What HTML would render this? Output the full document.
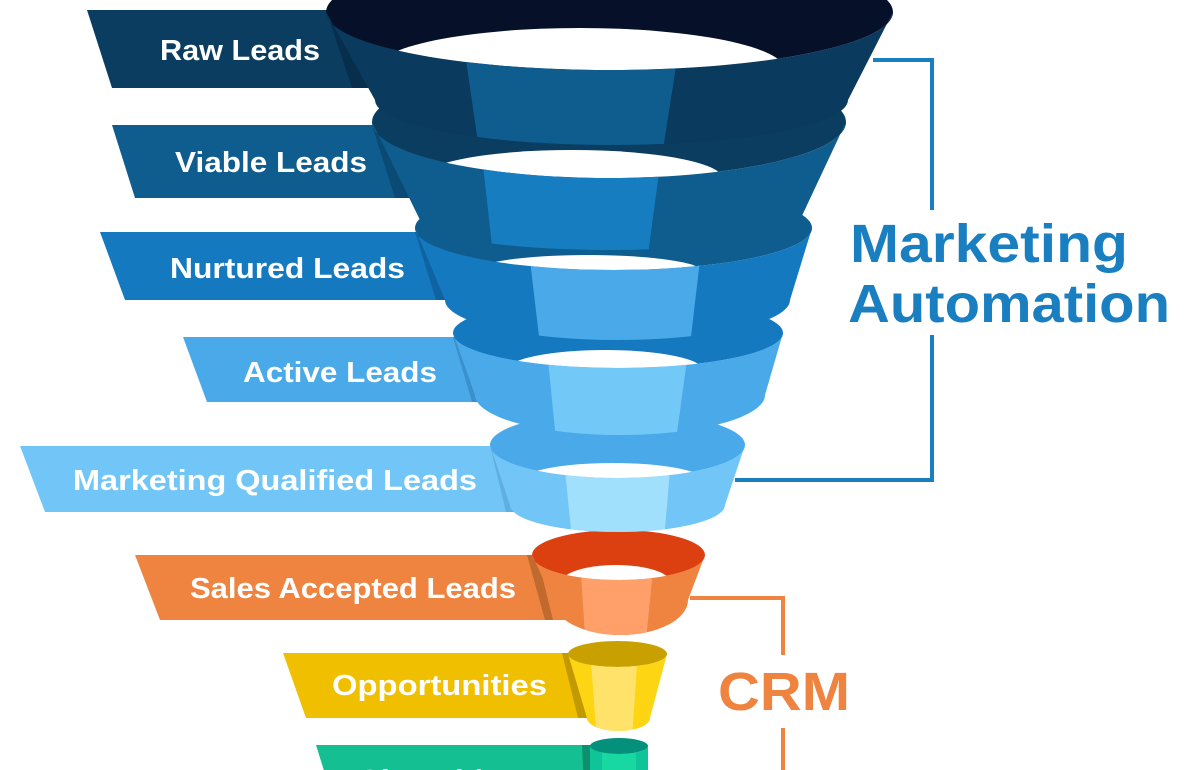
<!DOCTYPE html>
<html><head><meta charset="utf-8"><style>
html,body{margin:0;padding:0;background:#fff;width:1200px;height:770px;overflow:hidden}
svg{display:block}
text{font-family:"Liberation Sans",sans-serif;font-weight:bold}
</style></head><body>
<svg width="1200" height="770" viewBox="0 0 1200 770" xmlns="http://www.w3.org/2000/svg">
<g fill="#fff" font-size="29">
<polygon points="87,10 600,10 600,88 112,88" fill="#0b3d60"/>
<polygon points="326,10 352,10 377,88 352,88" fill="#072f4d"/>
<text x="160" y="60" textLength="160" lengthAdjust="spacingAndGlyphs">Raw Leads</text>
<polygon points="112,125 600,125 600,198 135,198" fill="#0f5c8e"/>
<polygon points="372,125 392,125 413,198 395,198" fill="#0b4a74"/>
<text x="175" y="172" textLength="192" lengthAdjust="spacingAndGlyphs">Viable Leads</text>
<polygon points="100,232 600,232 600,300 125,300" fill="#1479bf"/>
<polygon points="415,232 432,232 450,300 436,300" fill="#0f63a0"/>
<text x="170" y="278" textLength="235" lengthAdjust="spacingAndGlyphs">Nurtured Leads</text>
<polygon points="183,337 600,337 600,402 207,402" fill="#4aa9e8"/>
<polygon points="453,337 468,337 484,402 472,402" fill="#3a8fcc"/>
<text x="243" y="382" textLength="194" lengthAdjust="spacingAndGlyphs">Active Leads</text>
<polygon points="20,446 600,446 600,512 45,512" fill="#72c6f7"/>
<polygon points="490,446 503,446 518,512 506,512" fill="#5fb0e0"/>
<text x="73" y="490" textLength="404" lengthAdjust="spacingAndGlyphs">Marketing Qualified Leads</text>
<polygon points="135,555 600,555 600,620 160,620" fill="#ee8440"/>
<polygon points="527,555 537,555 553,620 545,620" fill="#c06a30"/>
<text x="190" y="598" textLength="326" lengthAdjust="spacingAndGlyphs">Sales Accepted Leads</text>
<polygon points="283,653 600,653 600,718 306,718" fill="#f0c000"/>
<polygon points="562,653 570,653 587,718 578,718" fill="#c09a00"/>
<text x="332" y="695" textLength="215" lengthAdjust="spacingAndGlyphs">Opportunities</text>
<polygon points="316,745 610,745 610,790 330,790" fill="#14bf92"/>
<polygon points="582,745 590,745 592,790 584,790" fill="#0e9070"/>
<text x="358" y="790" textLength="200" lengthAdjust="spacingAndGlyphs">Closed / Won</text>
</g>

<defs>
<path id="b8" d="M590,746 A29,8 0 0 0 648,746 L648,790 L590,790 Z"/>
<path id="b7" d="M568,654 A49.5,13 0 0 0 667,654 L650,718 A31.5,13 0 0 1 587,718 Z"/>
<path id="b6" d="M532,555 A86.5,25 0 0 0 705,555 L688,600 A67.5,35 0 0 1 553,600 Z"/>
<path id="b5" d="M490,445 A127.5,33 0 0 0 745,445 L725,505 A107.5,27 0 0 1 510,505 Z"/>
<path id="b4" d="M453,333 A165,35 0 0 0 783,333 L765,395 A145,40 0 0 1 475,395 Z"/>
<path id="b3" d="M415,228 A198.5,42 0 0 0 812,228 L790,300 A172.5,40 0 0 1 445,300 Z"/>
<path id="b2" d="M372,122 A237,56 0 0 0 846,122 L800,220 A190,30 0 0 1 420,220 Z"/>
<path id="b1" d="M326,12 A283.5,58 0 0 0 893,12 L848,100 A236.5,45 0 0 1 375,100 Z"/>
<clipPath id="c8"><use href="#b8"/></clipPath>
<clipPath id="c7"><use href="#b7"/></clipPath>
<clipPath id="c6"><use href="#b6"/></clipPath>
<clipPath id="c5"><use href="#b5"/></clipPath>
<clipPath id="c4"><use href="#b4"/></clipPath>
<clipPath id="c3"><use href="#b3"/></clipPath>
<clipPath id="c2"><use href="#b2"/></clipPath>
<clipPath id="c1"><use href="#b1"/></clipPath>
</defs>

<!-- layer 8 -->
<ellipse cx="619" cy="746" rx="29" ry="8" fill="#04907a"/>
<use href="#b8" fill="#10c49a"/>
<polygon points="602,740 636,740 636,790 602,790" fill="#18d8a2" clip-path="url(#c8)"/>
<!-- layer 7 -->
<ellipse cx="617.5" cy="654" rx="49.5" ry="13" fill="#c8a000"/>
<use href="#b7" fill="#fdd512"/>
<polygon points="590,650 638,650 632,740 597,740" fill="#ffe26a" clip-path="url(#c7)"/>
<!-- layer 6 -->
<ellipse cx="618.5" cy="555" rx="86.5" ry="25" fill="#dd4010"/>
<ellipse cx="616" cy="582" rx="54" ry="17" fill="#fff"/>
<use href="#b6" fill="#ee8440"/>
<polygon points="580,560 654,560 645,650 586,650" fill="#ffa06a" clip-path="url(#c6)"/>
<!-- layer 5 -->
<ellipse cx="617.5" cy="445" rx="127.5" ry="33" fill="#4aa9e8"/>
<ellipse cx="613" cy="480" rx="90" ry="17" fill="#fff"/>
<use href="#b5" fill="#72c6f7"/>
<polygon points="565,470 670,470 664,540 572,540" fill="#a0e0fc" clip-path="url(#c5)"/>
<!-- layer 4 -->
<ellipse cx="618" cy="333" rx="165" ry="35" fill="#1479bf"/>
<ellipse cx="605" cy="370" rx="98" ry="20" fill="#fff"/>
<use href="#b4" fill="#4aa9e8"/>
<polygon points="548,360 687,360 676,440 556,440" fill="#72c8f7" clip-path="url(#c4)"/>
<!-- layer 3 -->
<ellipse cx="613.5" cy="228" rx="198.5" ry="42" fill="#0f5c8e"/>
<ellipse cx="588" cy="272" rx="115" ry="17" fill="#fff"/>
<use href="#b3" fill="#1479bf"/>
<polygon points="530,260 700,260 690,345 540,345" fill="#4aa9e8" clip-path="url(#c3)"/>
<!-- layer 2 -->
<ellipse cx="609" cy="122" rx="237" ry="56" fill="#0b3d60"/>
<ellipse cx="572" cy="178" rx="150" ry="28" fill="#fff"/>
<use href="#b2" fill="#0f5c8e"/>
<polygon points="483,165 660,165 648,255 493,255" fill="#157dc0" clip-path="url(#c2)"/>
<!-- layer 1 -->
<ellipse cx="609.5" cy="12" rx="283.5" ry="58" fill="#061029"/>
<ellipse cx="580" cy="70" rx="205" ry="42" fill="#fff"/>
<use href="#b1" fill="#0a3a5e"/>
<polygon points="466,60 677,60 663,150 479,150" fill="#0f5c8e" clip-path="url(#c1)"/>

<g fill="none" stroke="#1a7fc1" stroke-width="4">
<polyline points="873,60 932,60 932,210"/>
<polyline points="932,335 932,480 735,480"/>
</g>
<text x="850" y="262" font-size="54" fill="#1a7fc1" textLength="278" lengthAdjust="spacingAndGlyphs">Marketing</text>
<text x="848" y="322" font-size="54" fill="#1a7fc1" textLength="322" lengthAdjust="spacingAndGlyphs">Automation</text>
<g fill="none" stroke="#ee8440" stroke-width="4">
<polyline points="690,598 783,598 783,655"/>
<polyline points="783,728 783,770"/>
</g>
<text x="718" y="710" font-size="54" fill="#ee8440" textLength="132" lengthAdjust="spacingAndGlyphs">CRM</text>
</svg>
</body></html>
